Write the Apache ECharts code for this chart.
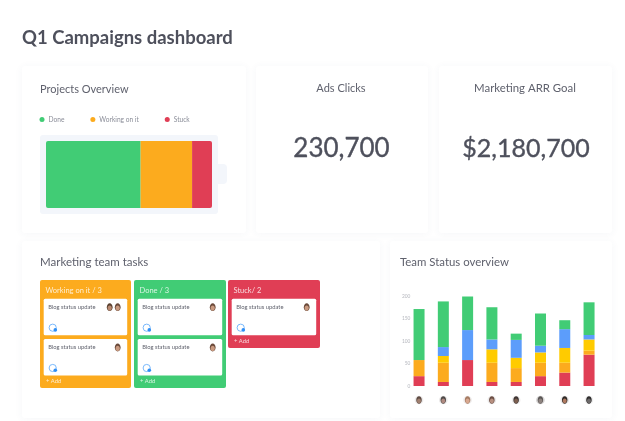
<!DOCTYPE html>
<html><head><meta charset="utf-8">
<style>html,body{margin:0;padding:0;background:#fff}#c{width:625px;height:421px;filter:blur(0.45px)}</style>
<script src="https://cdn.jsdelivr.net/npm/echarts@6/dist/echarts.min.js"></script>
</head><body><div id="c"></div>
<script>
const pageTitle = 'Q1 Campaigns dashboard';
const statusNames = ['Done', 'Working on it', 'Stuck'];
const statusShares = [57, 31, 12];
const adsClicks = '230,700';
const arrGoal = '$2,180,700';
const teamMembers = ['A','B','C','D','E','F','G','H'];
const yTicks = [0, 50, 100, 150, 200];
const redValues    = [22, 9, 58, 9, 9, 22, 30, 70];
const orangeValues = [36, 43, 0, 43, 31, 30, 22, 9];
const yellowValues = [0, 15, 0, 30, 23, 23, 33, 25];
const blueValues   = [0, 20, 67, 22, 40, 15, 42, 10];
const greenValues  = [114, 102, 75, 72, 14, 72, 20, 73];

const GREEN='#41cc75', ORANGE='#fcab1e', RED='#e03e55', BLUE='#5c9dfb', YELLOW='#ffcb00';
const INK='#4e505c', SUB='#5f616d', FONT='Lato';

const g=[];
const card=(x,y,w,h)=>g.push({type:'rect',shape:{x,y,width:w,height:h,r:3},style:{fill:'#fff',shadowBlur:9,shadowColor:'rgba(60,70,110,0.05)',shadowOffsetY:1}});
const txt=(x,y,t,size,fill,o={})=>g.push({type:'text',x,y,style:Object.assign({text:t,fontFamily:FONT,fontSize:size,fill,textVerticalAlign:'middle',textAlign:'left'},o)});
const box=(x,y,w,h,fill,r=2)=>g.push({type:'rect',shape:{x,y,width:w,height:h,r},style:{fill}});
const avatar=(cx,cy,k,skin,hair,halo)=>{
  if(halo) g.push({type:'circle',shape:{cx,cy,r:4.6*k},style:{fill:halo}});
  g.push({type:'ellipse',shape:{cx,cy,rx:2.9*k,ry:3.9*k},style:{fill:hair}});
  g.push({type:'ellipse',shape:{cx,cy:cy+0.9*k,rx:2.1*k,ry:2.6*k},style:{fill:skin}});
};
const bubble=(cx,cy)=>{
  g.push({type:'circle',shape:{cx,cy,r:3.6},style:{fill:'#fff',stroke:'#7ab9fc',lineWidth:1}});
  g.push({type:'circle',shape:{cx:cx+2.6,cy:cy+2.2,r:1.8},style:{fill:'#2f8ff5'}});
};

txt(22,38.5,pageTitle,18.5,INK,{fontWeight:'bold'});
card(22,66,224,167); card(256,66,172,167); card(439,66,173,167);
card(22,241,358,177); card(390,241,222,177);

txt(40,89,'Projects Overview',11,SUB);
txt(341,88,'Ads Clicks',11,SUB,{textAlign:'center'});
txt(525,88,'Marketing ARR Goal',11.4,SUB,{textAlign:'center'});
const bigNum={textAlign:'center',stroke:INK,lineWidth:0.35};
txt(341.5,149,adsClicks,26,INK,bigNum);
txt(526,149,arrGoal,25,INK,bigNum);
txt(40,262,'Marketing team tasks',11.5,SUB);
txt(400,262,'Team Status overview',11.4,SUB);

box(40,135,178,79,'#f3f6fb',3);
box(214,164,13,20,'#f3f6fb',4);

const columns=[
 {x:40,w:91,h:108,c:ORANGE,t:'Working on it / 3',cards:[2,1]},
 {x:134,w:92,h:108,c:GREEN,t:'Done / 3',cards:[1,1]},
 {x:228,w:92,h:68,c:RED,t:'Stuck/ 2',cards:[1]}
];
columns.forEach(col=>{
  box(col.x,280,col.w,col.h,col.c,2);
  txt(col.x+5.5,290.5,col.t,7.5,'rgba(255,255,255,0.8)');
  col.cards.forEach((n,i)=>{
    const y=298.7+i*40.3, cx=col.x+3.7;
    box(cx,y,col.w-7.5,36.5,'#fff',1.5);
    txt(cx+4.5,y+8.5,'Blog status update',5.8,'#62646f');
    avatar(cx+col.w-17,y+8.5,1,'#c99a80','#6b4a3a');
    if(n===2) avatar(cx+col.w-25,y+8.5,1,'#b98a72','#59402f');
    bubble(cx+9,y+29);
  });
  txt(col.x+6,280+col.h-7,'+ Add',5.8,'rgba(255,255,255,0.8)');
});

const avatarTones=[['#a08070','#5e4a42','#eceaea'],['#b08a80','#4e4a48','#eceaea'],['#d8a890','#a57b62','#f0eeee'],['#b89080','#6b4e44','#eceaea'],['#7d5f50','#3e3533','#eeecec'],['#8f8480','#5a5654','#d8d6d6'],['#b07a60','#2f2a28','#eceaea'],['#6d6a6a','#2e2c2c','#eeeeee']];
teamMembers.forEach((m,i)=>{
  const t=avatarTones[i];
  avatar(419+i*24.28,400,0.95,t[0],t[1],t[2]);
});

const batterySeries=(name,vals,color,radius)=>({name,type:'bar',stack:'b',xAxisIndex:0,yAxisIndex:0,barWidth:67,data:vals,itemStyle:{color,borderRadius:radius}});
const teamSeries=(name,vals,color)=>({name,type:'bar',stack:'t',xAxisIndex:1,yAxisIndex:1,barWidth:11,data:vals,itemStyle:{color}});

echarts.init(document.getElementById('c'),null,{renderer:'canvas'}).setOption({
  animation:false,
  textStyle:{fontFamily:FONT},
  graphic:{elements:g},
  legend:{data:statusNames,left:34.5,top:111,icon:'circle',itemWidth:5,itemHeight:5,itemGap:26,
    textStyle:{fontFamily:FONT,fontSize:6.6,color:'#8a8d98',padding:[0,0,0,-1]},selectedMode:false},
  grid:[
    {left:46,top:141,width:166,height:67},
    {left:406.9,top:296.5,width:194.3,height:89.5}
  ],
  xAxis:[
    {type:'value',gridIndex:0,min:0,max:100,show:false},
    {type:'category',gridIndex:1,data:teamMembers,axisLine:{show:false},axisTick:{show:false},axisLabel:{show:false}}
  ],
  yAxis:[
    {type:'category',gridIndex:0,data:['Q1'],show:false},
    {type:'value',gridIndex:1,min:yTicks[0],max:yTicks[yTicks.length-1],interval:yTicks[1]-yTicks[0],
      splitLine:{show:false},axisLine:{show:false},axisTick:{show:false},
      axisLabel:{fontSize:4.8,color:'#b4b6bd',margin:-3.5,fontFamily:FONT}}
  ],
  series:[
    batterySeries(statusNames[0],[statusShares[0]],GREEN,[2,0,0,2]),
    batterySeries(statusNames[1],[statusShares[1]],ORANGE,0),
    batterySeries(statusNames[2],[statusShares[2]],RED,[0,2,2,0]),
    teamSeries('Stuck team',redValues,RED),
    teamSeries('Working team',orangeValues,ORANGE),
    teamSeries('Review team',yellowValues,YELLOW),
    teamSeries('Planned team',blueValues,BLUE),
    teamSeries('Done team',greenValues,GREEN)
  ]
});
</script></body></html>
